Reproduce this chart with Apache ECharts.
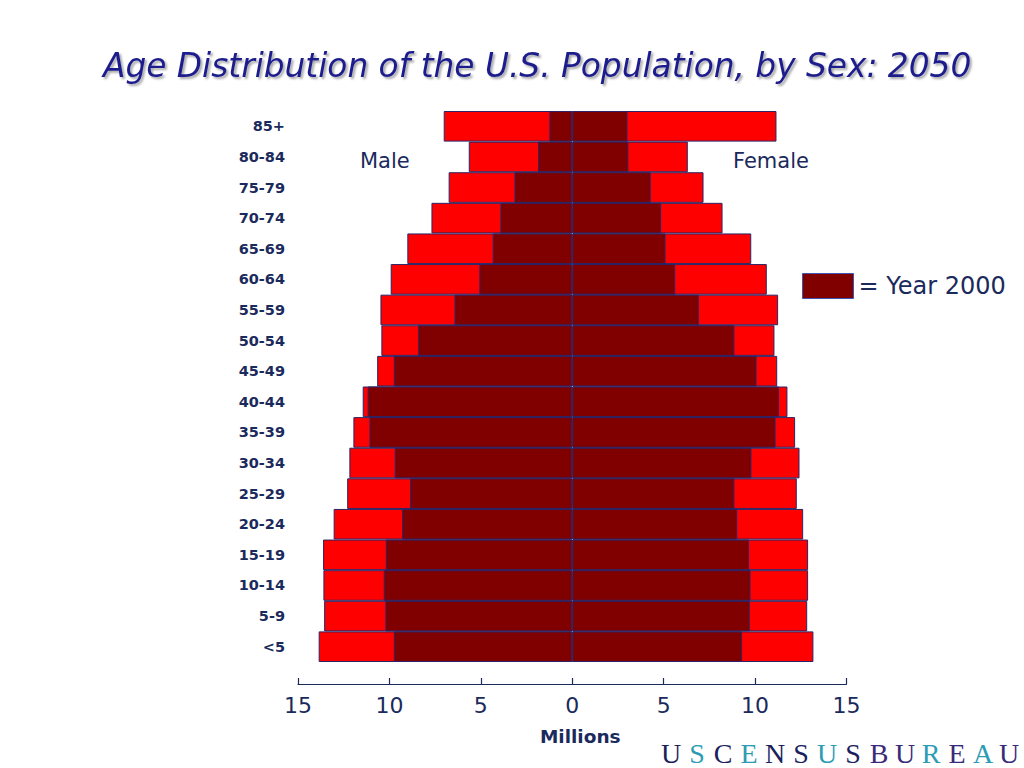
<!DOCTYPE html>
<html>
<head>
<meta charset="utf-8">
<script src="https://cdn.jsdelivr.net/npm/echarts@6/dist/echarts.min.js"></script>
<style>
html,body{margin:0;padding:0;background:#fff;}
#c{width:1024px;height:768px;}
</style>
</head>
<body>
<div id="c"></div>
<script>
const ageGroups = ['85+','80-84','75-79','70-74','65-69','60-64','55-59','50-54','45-49','40-44','35-39','30-34','25-29','20-24','15-19','10-14','5-9','<5'];
const male2050 = [7.03,5.66,6.76,7.70,9.02,9.93,10.49,10.44,10.67,11.46,11.97,12.19,12.31,13.05,13.63,13.61,13.57,13.87];
const male2000 = [1.25,1.87,3.16,3.93,4.35,5.08,6.44,8.43,9.76,11.19,11.09,9.71,8.87,9.31,10.20,10.31,10.22,9.76];
const female2050 = [11.17,6.32,7.18,8.22,9.79,10.64,11.26,11.06,11.21,11.77,12.19,12.43,12.28,12.63,12.90,12.90,12.85,13.19];
const female2000 = [3.02,3.07,4.29,4.86,5.10,5.63,6.92,8.87,10.08,11.30,11.12,9.80,8.87,9.02,9.66,9.75,9.71,9.29];
const xTicks = [-15,-10,-5,0,5,10,15];

const navy = '#1b2a5c';
const border = '#2c2466';
const chart = echarts.init(document.getElementById('c'), null, {renderer:'svg'});
const neg = a => a.map(v => -v);
const logoLetters = [['U','n'],['S','t'],['C','n'],['E','t'],['N','n'],['S','n'],['U','t'],['S','n'],['B','p'],['U','p'],['R','t'],['E','p'],['A','t'],['U','p']];
chart.setOption({
  animation:false,
  backgroundColor:'#ffffff',
  title:{
    text:'Age Distribution of the U.S. Population, by Sex: 2050',
    left:98, top:44,
    textStyle:{fontFamily:'DejaVu Sans', fontStyle:'italic', fontWeight:'normal', fontSize:32.8, color:'#1f1f8c',
      textShadowColor:'rgba(0,0,0,0.35)', textShadowOffsetX:2, textShadowOffsetY:2, textShadowBlur:2}
  },
  legend:{
    data:['Year 2000'], left:797, top:268, itemWidth:51, itemHeight:25, itemGap:8,
    icon:'rect', formatter:'= {name}',
    textStyle:{fontFamily:'DejaVu Sans', fontSize:24, color:navy},
    itemStyle:{borderColor:'#3f55b0', borderWidth:1}
  },
  grid:{left:298, right:177.5, top:111, bottom:106, containLabel:false},
  xAxis:{
    type:'value', min:-15, max:15, interval:5, offset:22,
    axisLine:{show:true, lineStyle:{color:navy, width:1.2}},
    axisTick:{show:true, inside:true, length:6, lineStyle:{color:navy, width:1.2}},
    splitLine:{show:false},
    axisLabel:{margin:10, fontFamily:'DejaVu Sans', fontSize:22, color:navy, formatter:v => String(Math.abs(v))},
    name:'Millions', nameLocation:'middle', nameGap:43,
    nameTextStyle:{fontFamily:'DejaVu Sans', fontWeight:'bold', fontSize:18.5, color:navy, padding:[0,0,0,16]}
  },
  yAxis:{
    type:'category', data:ageGroups, inverse:true,
    axisLine:{show:false}, axisTick:{show:false},
    axisLabel:{margin:13, fontFamily:'DejaVu Sans', fontWeight:'bold', fontSize:14.5, color:navy}
  },
  series:[
    {name:'Male 2050', type:'bar', data:neg(male2050), barGap:'-100%', barCategoryGap:'0%',
      itemStyle:{color:'#ff0000', borderColor:border, borderWidth:1}, silent:true},
    {name:'Female 2050', type:'bar', data:female2050, barGap:'-100%', barCategoryGap:'0%',
      itemStyle:{color:'#ff0000', borderColor:border, borderWidth:1}, silent:true},
    {name:'Year 2000', type:'bar', data:neg(male2000), barGap:'-100%', barCategoryGap:'0%',
      itemStyle:{color:'#800000', borderColor:border, borderWidth:1}, silent:true},
    {name:'Year 2000', type:'bar', data:female2000, barGap:'-100%', barCategoryGap:'0%',
      itemStyle:{color:'#800000', borderColor:border, borderWidth:1}, silent:true}
  ],
  graphic:[
    {type:'text', left:360, top:150, style:{text:'Male', fontFamily:'DejaVu Sans', fontSize:21, fill:navy}},
    {type:'text', left:733, top:150, style:{text:'Female', fontFamily:'DejaVu Sans', fontSize:21, fill:navy}},
    {type:'text', left:658, top:739, style:{
      text: logoLetters.map(l => '{' + l[1] + '|' + l[0] + '}').join(''),
      rich:{
        n:{fontFamily:'Liberation Serif', fontSize:28, lineHeight:28, fill:'#1b1f5e', color:'#1b1f5e', width:26, align:'center'},
        t:{fontFamily:'Liberation Serif', fontSize:28, lineHeight:28, fill:'#2e9bb5', color:'#2e9bb5', width:26, align:'center'},
        p:{fontFamily:'Liberation Serif', fontSize:28, lineHeight:28, fill:'#3a2a7a', color:'#3a2a7a', width:26, align:'center'}
      }
    }}
  ]
});
</script>
</body>
</html>
